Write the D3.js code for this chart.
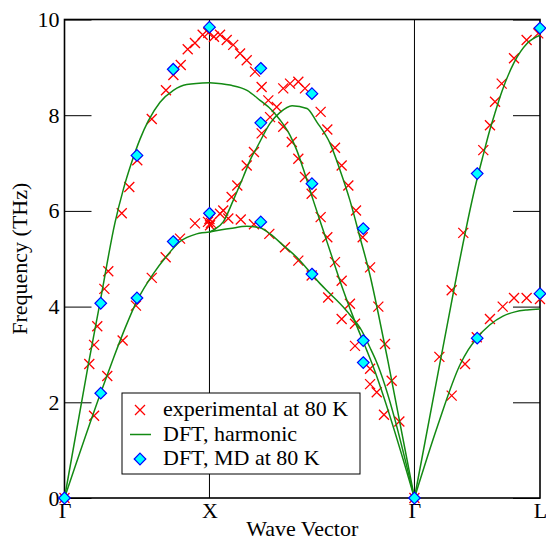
<!DOCTYPE html>
<html>
<head>
<meta charset="utf-8">
<script src="https://cdn.jsdelivr.net/npm/d3@7"></script>
<style>
  body { margin: 0; background: #fff; }
</style>
</head>
<body>
<div id="chart"></div>
<script>
// wave vector path: G-X (1), X-G along [110] (sqrt 2), G-L (sqrt 3 / 2)
var kPos = [0, 1, 1 + Math.SQRT2, 1 + Math.SQRT2 + Math.sqrt(3) / 2];
var kLabels = ["\u0393", "X", "\u0393", "L"];
var yTicks = [0, 2, 4, 6, 8, 10];

// DFT harmonic branches, [q, THz]
var laGX = [[0,0],[0.162,2.75],[0.246,4.1],[0.348,5.75],[0.406,6.45],[0.464,7.02],[0.521,7.5],[0.578,7.88],[0.659,8.27],[0.751,8.52],[0.843,8.64],[1.0,8.68]];
var taGX = [[0,0],[0.25,2.2],[0.335,2.9],[0.418,3.55],[0.5,4.12],[0.611,4.68],[0.698,5.03],[0.797,5.36],[0.912,5.52],[1.0,5.56]];
var laXG = [[1.0,8.68],[1.142,8.63],[1.259,8.52],[1.349,8.31],[1.432,8.1],[1.487,7.9],[1.556,7.58],[1.602,7.27],[1.647,6.88],[1.716,6.22],[1.785,5.59],[1.854,4.96],[1.923,4.34],[1.992,3.78],[2.086,3.08],[2.114,2.87],[2.414,0]];
var ta1XG = [[1.0,5.56],[1.027,5.6],[1.095,5.77],[1.164,6.22],[1.233,6.71],[1.291,7.13],[1.328,7.33],[1.418,7.83],[1.487,8.06],[1.57,8.2],[1.673,8.14],[1.74,7.86],[1.832,7.41],[1.901,6.85],[1.969,6.22],[2.038,5.45],[2.108,4.65],[2.165,3.85],[2.232,2.85],[2.414,0]];
var ta2XG = [[1.0,5.56],[1.142,5.63],[1.257,5.68],[1.349,5.65],[1.418,5.52],[1.509,5.28],[1.602,5.03],[1.694,4.72],[1.763,4.48],[1.832,4.27],[1.923,3.99],[1.992,3.74],[2.038,3.56],[2.108,3.14],[2.149,2.87],[2.414,0]];
var laGL = [[2.414,0],[2.593,2.87],[2.844,6.64],[2.887,7.15],[2.935,7.7],[2.97,8.05],[3.018,8.5],[3.101,9.1],[3.191,9.5],[3.28,9.67]];
var taGL = [[2.414,0],[2.573,1.5],[2.731,2.8],[2.786,3.1],[2.844,3.34],[2.935,3.62],[3.025,3.8],[3.108,3.89],[3.191,3.93],[3.28,3.95]];
var branches = [laGX, taGX, laXG, ta1XG, ta2XG, laGL, taGL];

// experimental at 80 K
var expPoints = [
  [0,0],[0.204,1.72],[0.295,2.55],[0.401,3.29],[0.493,4.02],[0.602,4.6],[0.698,5.03],[0.797,5.42],[0.9,5.74],
  [0.171,2.8],[0.204,3.2],[0.226,3.59],[0.275,4.37],[0.302,4.74],[0.395,5.95],[0.447,6.5],[0.502,7.06],
  [0.602,7.92],[0.7,8.52],[0.751,8.84],[0.802,9.05],[0.85,9.38],[0.9,9.51],[0.953,9.68],[0.992,9.72],[1.031,9.64],
  [1.073,9.68],[1.119,9.57],[1.164,9.47],[1.211,9.29],[1.257,9.15],[1.314,8.91],[1.36,8.59],[1.406,8.31],
  [1.464,8.17],[1.509,7.76],[1.568,7.44],[1.613,7.09],[1.659,6.71],[1.705,6.36],[1.767,5.87],[1.813,5.45],
  [1.866,4.93],[1.912,4.54],[1.969,4.06],[2.004,3.64],[2.004,3.18],[2.108,2.7],[2.154,2.21],[2.204,1.74],
  [0.99,5.77],[1.0,5.83],[1.01,5.75],[1.004,5.7],[1.073,5.94],[1.095,6.01],[1.153,6.29],[1.192,6.53],
  [1.257,6.95],[1.307,7.23],[1.36,7.62],[1.418,7.96],[1.509,8.56],[1.556,8.66],[1.613,8.7],[1.659,8.56],
  [1.767,8.07],[1.813,7.7],[1.866,7.32],[1.912,6.95],[1.958,6.53],[2.011,6.01],[2.057,5.45],[2.108,4.82],
  [2.165,4.0],[2.211,3.22],[2.257,2.45],[2.31,1.6],
  [1.13,5.84],[1.216,5.82],[1.307,5.72],[1.413,5.52],[1.521,5.24],[1.613,4.96],[1.705,4.65],[1.819,4.19],
  [1.912,3.74],[2.108,2.38],
  [2.414,0],[2.586,2.95],[2.671,2.14],[2.671,4.34],[2.751,5.54],[2.763,2.8],[2.844,3.36],[2.889,7.27],
  [2.935,7.79],[2.935,3.74],[2.97,8.28],[3.016,8.66],[3.023,4.0],[3.101,9.19],[3.101,4.18],[3.188,9.57],
  [3.188,4.18],[3.268,9.71],[3.28,4.16]
];

// DFT, MD at 80 K
var mdPoints = [
  [0,0],[0.25,2.19],[0.25,4.07],[0.5,4.18],[0.5,7.16],[0.75,5.36],[0.75,8.96],[1,9.84],[1,5.95],
  [1.354,5.77],[1.354,8.98],[1.354,7.84],[1.707,8.45],[1.707,6.57],[1.707,4.68],
  [2.061,5.63],[2.061,3.29],[2.061,2.83],[2.414,0],[2.847,3.34],[2.847,6.78],[3.28,9.82],[3.28,4.27]
];

var legendLabels = ["experimental at 80 K", "DFT, harmonic", "DFT, MD at 80 K"];

var W = 546, H = 541;
var fontSize = 22;
var fontFamily = "'Liberation Serif', Tinos, 'Nimbus Roman', 'Nimbus Roman No9 L', FreeSerif, 'Times New Roman', Times, 'DejaVu Serif', 'Noto Serif', serif";
var green = "#138a13";
var crossPath = "M-5,-5L5,5M-5,5L5,-5";
var diamondPath = "M0,-5.8L5.8,0L0,5.8L-5.8,0Z";

var svg = d3.select("#chart").append("svg")
  .attr("width", W).attr("height", H)
  .attr("font-family", fontFamily);

var x = d3.scaleLinear().domain([kPos[0], kPos[3]]).range([64.5, 540]);
var y = d3.scaleLinear().domain([0, 10]).range([498, 19.5]);

// y axes, ticks pointing inward
var leftAxis = svg.append("g")
  .attr("transform", "translate(" + x(kPos[0]) + ",0)")
  .call(d3.axisLeft(y).tickValues(yTicks).tickSize(-27).tickPadding(5));
var rightAxis = svg.append("g")
  .attr("transform", "translate(" + x(kPos[3]) + ",0)")
  .call(d3.axisRight(y).tickValues(yTicks).tickSize(-27).tickFormat(""));
var bottomAxis = svg.append("g")
  .attr("transform", "translate(0," + y(0) + ")")
  .call(d3.axisBottom(x).tickValues(kPos).tickSize(0).tickPadding(4.5)
    .tickFormat((d, i) => kLabels[i]));

[leftAxis, rightAxis, bottomAxis].forEach((g) => {
  g.select(".domain").remove();
  g.attr("font-family", fontFamily).attr("font-size", fontSize);
  g.selectAll("text").attr("fill", "#000");
  g.selectAll("line").attr("stroke", "#000").attr("stroke-width", 1);
});

// symmetry point lines
svg.selectAll(".kline")
  .data(kPos.slice(1, 3))
  .enter()
  .append("line")
  .attr("x1", (d) => x(d)).attr("x2", (d) => x(d))
  .attr("y1", y(0)).attr("y2", y(10))
  .attr("stroke", "#000").attr("stroke-width", 1);

// frame
svg.append("rect")
  .attr("x", x(kPos[0])).attr("y", y(10))
  .attr("width", x(kPos[3]) - x(kPos[0]))
  .attr("height", y(0) - y(10))
  .attr("fill", "none").attr("stroke", "#000").attr("stroke-width", 1.6);

// experimental crosses
svg.append("g").selectAll("path")
  .data(expPoints)
  .enter()
  .append("path")
  .attr("transform", (d) => "translate(" + x(d[0]) + "," + y(d[1]) + ")")
  .attr("d", crossPath)
  .attr("stroke", "#ff0000").attr("stroke-width", 1.3).attr("fill", "none");

// harmonic curves
var line = d3.line()
  .x((d) => x(d[0]))
  .y((d) => y(d[1]))
  .curve(d3.curveMonotoneX);

svg.append("g").selectAll("path")
  .data(branches)
  .enter()
  .append("path")
  .attr("d", line)
  .attr("fill", "none").attr("stroke", green).attr("stroke-width", 1.5);

// MD diamonds
svg.append("g").selectAll("path")
  .data(mdPoints)
  .enter()
  .append("path")
  .attr("transform", (d) => "translate(" + x(d[0]) + "," + y(d[1]) + ")")
  .attr("d", diamondPath)
  .attr("fill", "#00ffff").attr("stroke", "#0000ff").attr("stroke-width", 1.2);

// axis titles
svg.append("text")
  .attr("x", (x(kPos[0]) + x(kPos[3])) / 2).attr("y", 536)
  .attr("text-anchor", "middle").attr("font-size", fontSize)
  .text("Wave Vector");
svg.append("text")
  .attr("transform", "translate(27," + (y(0) + y(10)) / 2 + ") rotate(-90)")
  .attr("text-anchor", "middle").attr("font-size", fontSize)
  .text("Frequency (THz)");

// legend
var legend = svg.append("g").attr("transform", "translate(122,393)");
legend.append("rect")
  .attr("width", 238).attr("height", 81)
  .attr("fill", "#fff").attr("stroke", "#000").attr("stroke-width", 1);

var rows = legend.selectAll(".row")
  .data(legendLabels)
  .enter()
  .append("g")
  .attr("transform", (d, i) => "translate(0," + (17 + i * 24.5) + ")");

rows.append("text")
  .attr("x", 41).attr("y", 6)
  .attr("font-size", fontSize)
  .text((d) => d);

rows.filter((d, i) => i == 0).append("path")
  .attr("transform", "translate(18,0)")
  .attr("d", crossPath)
  .attr("stroke", "#ff0000").attr("stroke-width", 1.3).attr("fill", "none");
rows.filter((d, i) => i == 1).append("line")
  .attr("x1", 8).attr("x2", 29)
  .attr("stroke", green).attr("stroke-width", 1.5);
rows.filter((d, i) => i == 2).append("path")
  .attr("transform", "translate(18,0)")
  .attr("d", diamondPath)
  .attr("fill", "#00ffff").attr("stroke", "#0000ff").attr("stroke-width", 1.2);
</script>
</body>
</html>
